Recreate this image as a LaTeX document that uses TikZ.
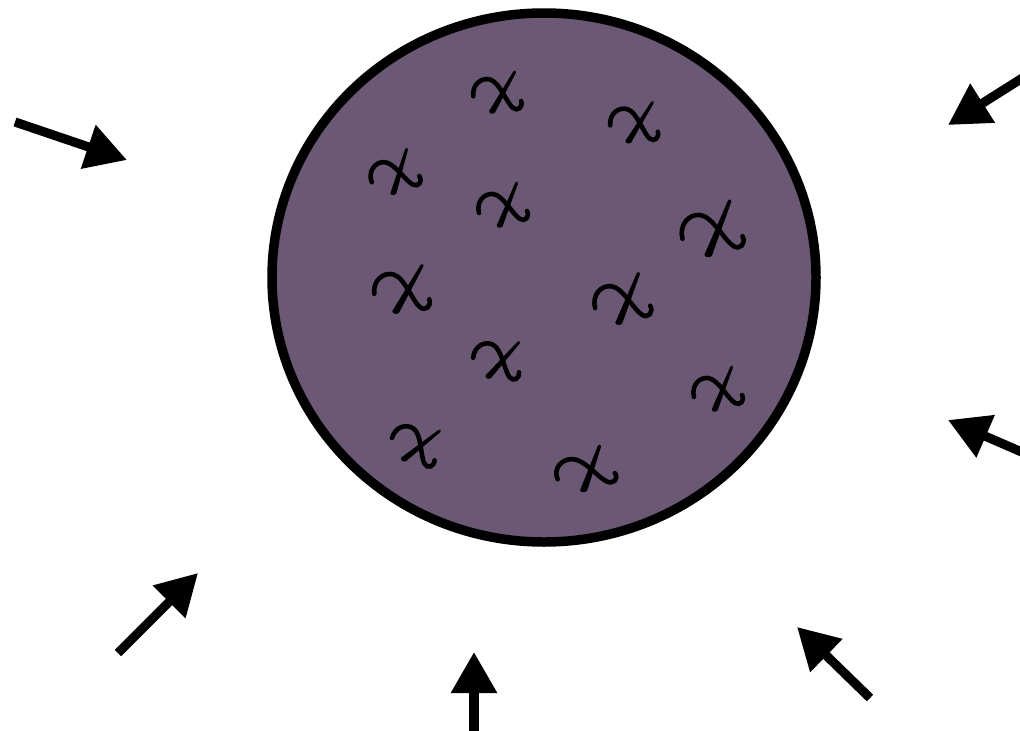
\documentclass[tikz,border=0pt]{standalone}
\usetikzlibrary{arrows.meta}
\definecolor{ink}{RGB}{0,0,0}
\definecolor{blob}{RGB}{106,88,116}
\tikzset{
  arr/.style={-{Triangle[length=8.2mm,width=8.8mm]},line width=5.2pt,ink},
  rim/.style={draw=ink,line width=5.4pt,fill=blob},
  xmark/.pic={
    \draw[ink,line width=2.6pt,line cap=round]
      (-26,7) .. controls (-29,-4) and (-21,-13) .. (-12,-12)
      .. controls (-2,-11) and (8,9) .. (15,13)
      .. controls (20,16) and (25,11) .. (22,5);
    \fill[ink,rounded corners=1pt] (11,-25) -- (13.5,-24) -- (-3,22) -- (-9,21) -- cycle;
  },
}
\begin{document}
\begin{tikzpicture}[x=0.02cm,y=-0.02cm]
\useasboundingbox (0,0) rectangle (1020,730);
% the sphere
\draw[rim] (544,277.5) ellipse [x radius=272, y radius=264.5];

% marks inside
\pic[rotate=-8] at (500,93) {xmark};
\pic[rotate=-10] at (637,123) {xmark};
\pic[rotate=5] at (397,173) {xmark};
\pic at (505,206) {xmark};
\pic[scale=1.25] at (715,230) {xmark};
\pic[scale=1.15,rotate=-8] at (405,290) {xmark};
\pic[scale=1.15] at (625,300) {xmark};
\pic[rotate=-20] at (500,360) {xmark};
\pic at (720,390) {xmark};
\pic[rotate=-30] at (418,445) {xmark};
\pic[xscale=1.2,rotate=5] at (588,470) {xmark};

% arrows from outside
\coordinate (t1) at (15,122);   \coordinate (h1) at (127,160);
\coordinate (t2) at (1024,77);  \coordinate (h2) at (948,125);
\coordinate (t3) at (1024,453); \coordinate (h3) at (948,420);
\coordinate (t4) at (118,653);  \coordinate (h4) at (198,573);
\coordinate (t5) at (474,732);  \coordinate (h5) at (474,652);
\coordinate (t6) at (870,698);  \coordinate (h6) at (797,627);
\foreach \i in {1,...,6}
  \draw[arr] (t\i) -- (h\i);
\end{tikzpicture}
\end{document}
